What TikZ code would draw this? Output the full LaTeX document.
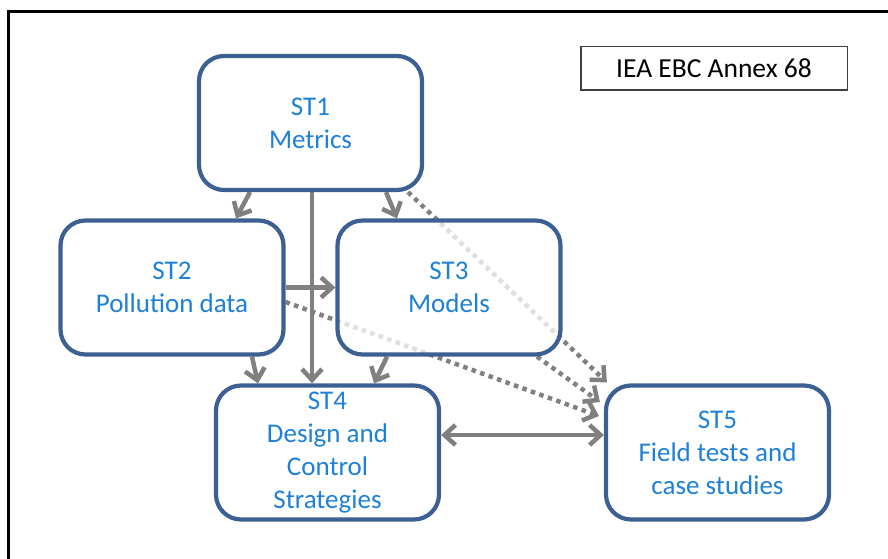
\documentclass[tikz,border=0pt]{standalone}
\usepackage{fontspec}
\setmainfont{Carlito}
\usetikzlibrary{arrows.meta,calc,backgrounds}
\definecolor{boxblue}{RGB}{60,96,146}
\definecolor{textblue}{RGB}{30,128,216}
\definecolor{linkgray}{RGB}{128,128,128}
\definecolor{taggray}{RGB}{64,64,64}
\begin{document}
\begin{tikzpicture}[x=1pt,y=-1pt,
  stbox/.style={draw=boxblue, line width=4.2pt, rounded corners=25pt,
    fill=white, fill opacity=0.75, text opacity=1,
    minimum width=223pt, minimum height=134pt, align=center,
    text=textblue, font=\fontsize{27}{33}\selectfont},
  link/.style={draw=linkgray, line width=4.5pt,
    -{Straight Barb[length=11pt,width=20pt]}},
  duallink/.style={link, {Straight Barb[length=11pt,width=20pt]}-{Straight Barb[length=11pt,width=20pt]}},
  dotlink/.style={link, dash pattern=on 4.5pt off 4.5pt},
]
\useasboundingbox (0,0) rectangle (888,559);
% outer frame (top and left edges)
\draw[line width=3.3pt] (8.3,559) -- (8.3,11.7) -- (888,11.7);

% title tag
\node[draw=taggray, line width=1.5pt, minimum width=266.5pt, minimum height=43.5pt,
  font=\fontsize{27.5}{30}\selectfont] (tag) at (714,68.5) {IEA EBC Annex 68};

% subtask boxes
\node[stbox] (st1) at (310.5,123)   {ST1\\Metrics};
\node[stbox] (st2) at (172,287.5)   {ST2\\Pollution data};
\node[stbox] (st3) at (449,287.5)   {ST3\\Models};
\node[stbox] (st4) at (327.5,452.5) {ST4\\Design and\\Control\\Strategies};
\node[stbox] (st5) at (717.5,452.5) {ST5\\Field tests and\\case studies};

\begin{scope}[on background layer]
  % solid links
  \draw[link] ([xshift=-60.5pt]st1.south) -- ([xshift=64pt]st2.north);
  \draw[link] ([xshift=75.5pt]st1.south) -- ([xshift=-52pt]st3.north);
  \draw[link] ([xshift=1.5pt]st1.south) -- ([xshift=1.5pt]st1.south |- st4.north);
  \draw[link] (st2.east) -- (st3.west);
  \draw[link] ([xshift=80pt]st2.south) -- ([xshift=-69.5pt]st4.north);
  \draw[link] ([xshift=-62pt]st3.south) -- ([xshift=46.5pt]st4.north);
  \draw[duallink] ([yshift=17.5pt]st4.east) -- ([yshift=17.5pt]st4.east -| st5.west);
  % dotted links into ST5
  \draw[dotlink] ([xshift=97.5pt]st1.south) -- ([xshift=3pt,yshift=1pt]st5.north west);
  \draw[dotlink] ([xshift=88pt]st3.south) -- ([xshift=-4pt,yshift=50.5pt]st5.west);
  \draw[dotlink] ([yshift=-14.5pt]st2.east) -- ([xshift=-5pt,yshift=36.5pt]st5.west);
\end{scope}
\end{tikzpicture}
\end{document}
